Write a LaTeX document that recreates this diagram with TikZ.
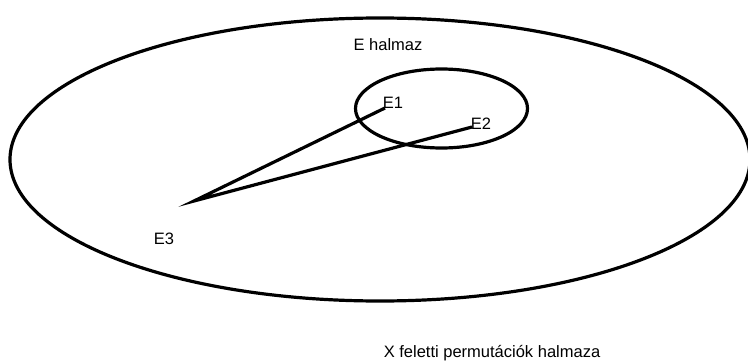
\documentclass[tikz,border=0pt]{standalone}
\usepackage{fontspec}
\setmainfont{Liberation Sans}
\usetikzlibrary{positioning}
\tikzset{
  % halmazok
  halmaz/.style={line width=3.2pt},
  % feliratok
  felirat/.style={font=\fontsize{16.5}{19}\selectfont,inner sep=0pt},
  % elemek kozotti vonal
  kapcs/.style={line width=3.2pt,line join=miter,miter limit=20}
}
\begin{document}
\begin{tikzpicture}[x=1pt,y=-1pt]
      \useasboundingbox (0,0) rectangle (748,364);
      \begin{scope}
        \clip (0,0) rectangle (748,364);
        \draw[halmaz] (380,159.5) ellipse (370 and 141.5);
      \end{scope}
      \draw[halmaz] (441.5,108.5) ellipse (86 and 39.5);
      \coordinate (E1) at (385,108);
      \coordinate (E2) at (472,127);
      \coordinate (E3) at (194,201);
      \draw[kapcs] (E1) -- (E3) -- (E2);
      \node[felirat] (lE1) at (393,103) {E1};
      \node[felirat] (lE2) at (481,124) {E2};
      \node[felirat] (lE3) at (164,239) {E3};
      \node[felirat] (lE) at (388,45) {E halmaz};
      \node[felirat] (lX) at (492,353) {X feletti permutációk halmaza};
\end{tikzpicture}
\end{document}
